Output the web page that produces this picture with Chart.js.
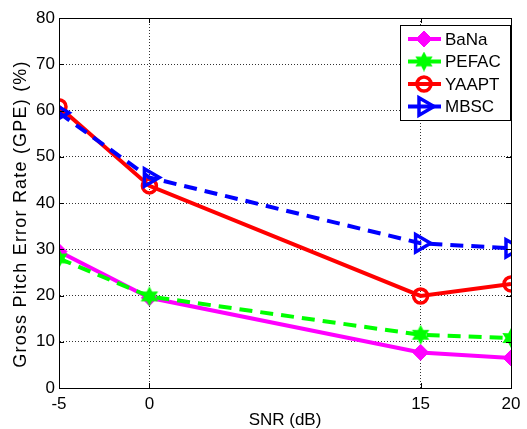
<!DOCTYPE html>
<html>
<head>
<meta charset="utf-8">
<script src="https://cdn.jsdelivr.net/npm/chart.js@4/dist/chart.umd.min.js"></script>
<style>
  html, body { margin: 0; padding: 0; background: #fff; }
  #wrap { width: 527px; height: 429px; }
</style>
</head>
<body>
<div id="wrap"><canvas id="gpeChart" width="527" height="429"></canvas></div>
<script>
// SNR values (dB) and GPE (%) per method
const snr = [-5, 0, 15, 20];
const xTicks = [-5, 0, 15, 20];
const bana = [29.5, 19.5, 7.7, 6.5];
const pefac = [28.0, 19.8, 11.5, 10.8];
const yaapt = [60.8, 43.7, 19.9, 22.5];
const mbsc = [59.5, 45.5, 31.3, 30.2];
const yTitle = 'Gross Pitch Error Rate (GPE) (%)';

function pts(vals) {
    return snr.map((x, i) => ({ x: x, y: vals[i] }));
}

// filled hexagram marker like matlab 'h'
function hexagram(size, color) {
    const c = document.createElement('canvas');
    c.width = size; c.height = size;
    const g = c.getContext('2d');
    const r = size / 2, ri = r * 0.55;
    g.beginPath();
    for (let i = 0; i < 12; i++) {
        const a = -Math.PI / 2 + i * Math.PI / 6;
        const rr = i % 2 === 0 ? r : ri;
        g.lineTo(r + rr * Math.cos(a), r + rr * Math.sin(a));
    }
    g.closePath();
    g.fillStyle = color;
    g.fill();
    return c;
}

const font = 'Arial, "Liberation Sans", sans-serif';

// box round the plot, inward tick marks, y title and the legend
const matlabBox = {
    id: 'matlabBox',
    afterDraw(chart) {
        const { ctx, chartArea: a, scales } = chart;
        ctx.save();
        ctx.strokeStyle = '#000';
        ctx.lineWidth = 1;
        ctx.strokeRect(a.left + 0.5, a.top + 0.5, a.right - a.left, a.bottom - a.top);
        ctx.beginPath();
        scales.x.ticks.forEach(t => {
            const px = Math.round(scales.x.getPixelForValue(t.value)) + 0.5;
            ctx.moveTo(px, a.bottom); ctx.lineTo(px, a.bottom - 5);
            ctx.moveTo(px, a.top); ctx.lineTo(px, a.top + 5);
        });
        scales.y.ticks.forEach(t => {
            const py = Math.round(scales.y.getPixelForValue(t.value)) + 0.5;
            ctx.moveTo(a.left, py); ctx.lineTo(a.left + 5, py);
            ctx.moveTo(a.right, py); ctx.lineTo(a.right - 5, py);
        });
        ctx.stroke();

        // y title, a bit wider spaced like the matlab render
        ctx.save();
        ctx.translate(21, 214);
        ctx.rotate(-Math.PI / 2);
        ctx.font = '18px ' + font;
        ctx.letterSpacing = '1.2px';
        ctx.textAlign = 'center';
        ctx.textBaseline = 'middle';
        ctx.fillStyle = '#000';
        ctx.fillText(yTitle, 0, 0);
        ctx.restore();

        // legend
        const bx = 400, by = 25, bw = 110, bh = 95;
        ctx.fillStyle = '#fff';
        ctx.fillRect(bx, by, bw, bh);
        ctx.strokeStyle = '#000';
        ctx.lineWidth = 1;
        ctx.strokeRect(bx + 0.5, by + 0.5, bw, bh);
        ctx.font = '17px ' + font;
        ctx.textBaseline = 'middle';
        chart.data.datasets.forEach((ds, i) => {
            const ly = by + 14 + i * 22.5;
            ctx.strokeStyle = ds.borderColor;
            ctx.lineWidth = ds.borderWidth;
            ctx.setLineDash([]);
            ctx.beginPath();
            ctx.moveTo(bx + 8, ly); ctx.lineTo(bx + 41, ly);
            ctx.stroke();
            ctx.fillStyle = ds.pointBackgroundColor;
            ctx.strokeStyle = ds.pointBorderColor;
            ctx.lineWidth = ds.pointBorderWidth;
            Chart.helpers.drawPoint(ctx, {
                pointStyle: ds.pointStyle,
                radius: ds.pointRadius,
                rotation: ds.pointRotation || 0,
                borderWidth: ds.pointBorderWidth
            }, bx + 24, ly);
            ctx.fillStyle = '#000';
            ctx.fillText(ds.label, bx + 45, ly + 1);
        });
        ctx.restore();
    }
};

const ctx = document.getElementById('gpeChart');
new Chart(ctx, {
    type: 'line',
    data: {
        datasets: [
            {
                label: 'BaNa', data: pts(bana), order: 4,
                borderColor: '#ff00ff', backgroundColor: '#ff00ff', borderWidth: 4,
                pointStyle: 'rectRot', pointRadius: 8, pointBackgroundColor: '#ff00ff',
                pointBorderColor: '#ff00ff', pointBorderWidth: 1
            },
            {
                label: 'PEFAC', data: pts(pefac), order: 3,
                borderColor: '#00ff00', backgroundColor: '#00ff00', borderWidth: 4, borderDash: [13, 8],
                pointStyle: hexagram(20, '#00ff00'), pointRadius: 10, pointBackgroundColor: '#00ff00',
                pointBorderColor: '#00ff00', pointBorderWidth: 1
            },
            {
                label: 'YAAPT', data: pts(yaapt), order: 2,
                borderColor: '#ff0000', backgroundColor: '#ff0000', borderWidth: 4,
                pointStyle: 'circle', pointRadius: 7, pointBackgroundColor: 'rgba(255,255,255,0)',
                pointBorderColor: '#ff0000', pointBorderWidth: 3.5
            },
            {
                label: 'MBSC', data: pts(mbsc), order: 1,
                borderColor: '#0000ff', backgroundColor: '#0000ff', borderWidth: 4, borderDash: [13, 8],
                pointStyle: 'triangle', pointRotation: 90, pointRadius: 10,
                pointBackgroundColor: 'rgba(255,255,255,0)', pointBorderColor: '#0000ff', pointBorderWidth: 3.5
            }
        ]
    },
    options: {
        responsive: false,
        animation: false,
        layout: { padding: { top: 18, right: 16, left: 0, bottom: 0 } },
        plugins: { legend: { display: false }, tooltip: { enabled: false } },
        scales: {
            x: {
                type: 'linear', min: -5, max: 20,
                afterBuildTicks(scale) { scale.ticks = xTicks.map(v => ({ value: v })); },
                afterFit(scale) { scale.height = 41; },
                grid: { color: '#333', lineWidth: 1, drawTicks: false },
                border: { color: '#000', dash: [1, 2] },
                ticks: { color: '#000', font: { size: 17, family: font }, padding: 6, maxRotation: 0 },
                title: { display: true, text: 'SNR (dB)', color: '#000', font: { size: 17, family: font }, padding: { top: 0, bottom: -2 } }
            },
            y: {
                min: 0, max: 80,
                afterFit(scale) { scale.width = 59; },
                grid: { color: '#333', lineWidth: 1, drawTicks: false },
                border: { color: '#000', dash: [1, 2] },
                ticks: { stepSize: 10, color: '#000', font: { size: 17, family: font }, padding: 4 }
            }
        }
    },
    plugins: [matlabBox]
});
</script>
</body>
</html>
